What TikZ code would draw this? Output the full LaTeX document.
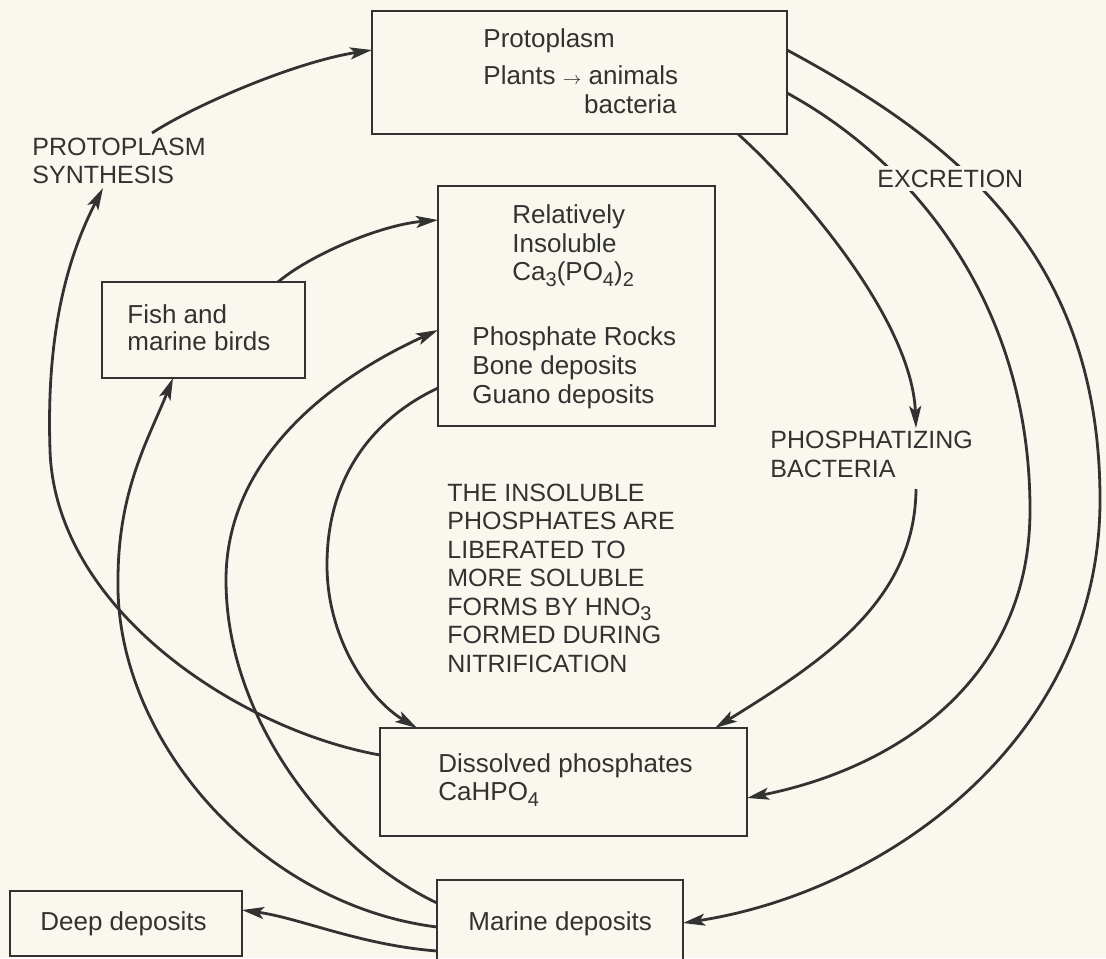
\documentclass[tikz,border=0pt]{standalone}
\usepackage{fontspec}
\setmainfont{Liberation Sans}
\usetikzlibrary{arrows.meta,calc,fit}
\definecolor{bg}{RGB}{250,248,238}
\definecolor{ink}{RGB}{50,50,50}
\newcommand{\mysub}[1]{\raisebox{-0.45ex}{\fontsize{10}{10}\selectfont #1}}
\tikzset{
 box/.style={draw=ink, line width=1.1pt, inner sep=0pt, outer sep=0pt},
 conn/.style={draw=ink, line width=1.4pt, -{Stealth[length=11pt,width=6pt,inset=2.5pt]}},
 bt/.style={anchor=base west, inner sep=0pt, text=ink, font=\fontsize{13}{15}\selectfont},
 capt/.style={anchor=base west, inner sep=0pt, text=ink, font=\fontsize{12.5}{14}\selectfont},
}
\begin{document}
\begin{tikzpicture}[x=0.5pt,y=-0.5pt]
\fill[bg] (0,0) rectangle (1106,958);
\useasboundingbox (0,0) rectangle (1106,958);
\clip (0,0) rectangle (1106,958);

% boxes
\node[box, fit={(372,11) (787,134)}] (proto) {};
\node[box, fit={(438,186) (715,426)}] (insol) {};
\node[box, fit={(102,282) (305,378)}] (fish) {};
\node[box, fit={(380,728) (747,836)}] (dissol) {};
\node[box, fit={(437,880) (683,990)}] (marine) {};
\node[box, fit={(10,891) (242,956)}] (deep) {};

% free ends
\coordinate (syntip) at (103,188);
\coordinate (synt) at (152,133);
\coordinate (phostip) at (916,428);
\coordinate (bactend) at (916,489);

% connectors
\draw[conn] ($(dissol.north west)+(0,27)$) .. controls (240,730) and (55,610) .. (50,450)
  .. controls (47,360) and (58,275) .. (syntip);
\draw[conn] (synt) .. controls (195,105) and (295,62) .. ($(proto.north west)+(0,39)$);
\draw[conn] ($(fish.north west)+(176,0)$) .. controls (310,255) and (380,225) .. ($(insol.north west)+(0,34)$);
\draw[conn] ($(marine.north west)+(0,23)$) .. controls (330,852) and (226,720) .. (226,580)
  .. controls (226,460) and (328,380) .. ($(insol.north west)+(0,144)$);
\draw[conn] ($(marine.north west)+(0,47)$) .. controls (260,905) and (115,740) .. (118,580)
  .. controls (118,490) and (149,438) .. ($(fish.south west)+(71,0)$);
\draw[conn] ($(marine.north west)+(0,71)$) .. controls (360,945) and (300,918) .. ($(deep.north east)+(0,19)$);
\draw[conn] ($(insol.north west)+(0,202)$) .. controls (370,420) and (327,480) .. (327,565)
  .. controls (327,640) and (370,700) .. ($(dissol.north west)+(37,0)$);
\draw[conn] ($(proto.north east)+(0,39)$) .. controls (950,138) and (1100,250) .. (1100,500)
  .. controls (1100,740) and (885,892) .. ($(marine.north east)+(0,43)$);
\draw[conn] ($(proto.north east)+(0,82)$) .. controls (910,160) and (1030,300) .. (1030,510)
  .. controls (1030,680) and (897,768) .. ($(dissol.north east)+(0,70)$);
\draw[conn] ($(proto.south west)+(366,0)$) .. controls (800,190) and (912,320) .. (phostip);
\draw[conn] (bactend) .. controls (915,600) and (825,660) .. ($(dissol.north west)+(335,0)$);

% labels
\node[capt] (s1) at (32,155) {PROTOPLASM};
\node[capt] (s2) at (32,183) {SYNTHESIS};
\node[capt, fill=bg, inner sep=2pt] (exc) at (873,187) {EXCRETION};
\node[capt] (ph1) at (770,448) {PHOSPHATIZING};
\node[capt] (ph2) at (770,477) {BACTERIA};
\node[capt] (n1) at (447,501) {THE INSOLUBLE};
\node[capt] (n2) at (447,529.5) {PHOSPHATES ARE};
\node[capt] (n3) at (447,558) {LIBERATED TO};
\node[capt] (n4) at (447,586.5) {MORE SOLUBLE};
\node[capt] (n5) at (447,615) {FORMS BY HNO\mysub{3}};
\node[capt] (n6) at (447,643.5) {FORMED DURING};
\node[capt] (n7) at (447,672) {NITRIFICATION};

% box texts
\node[bt] (pr1) at (483,47) {Protoplasm};
\node[bt] (pr2) at (483,84) {Plants {\small$\rightarrow$} animals};
\node[bt, anchor=base east] (pr3) at (677,113) {bacteria};
\node[bt] (i1) at (512,223) {Relatively};
\node[bt] (i2) at (512,252) {Insoluble};
\node[bt] (i3) at (512,280) {Ca\mysub{3}(PO\mysub{4})\mysub{2}};
\node[bt] (i4) at (472,345) {Phosphate Rocks};
\node[bt] (i5) at (472,374) {Bone deposits};
\node[bt] (i6) at (472,403) {Guano deposits};
\node[bt] (f1) at (127,323) {Fish and};
\node[bt] (f2) at (127,350) {marine birds};
\node[bt] (d1) at (438,772) {Dissolved phosphates};
\node[bt] (d2) at (438,800) {CaHPO\mysub{4}};
\node[bt] (m1) at (468,930) {Marine deposits};
\node[bt] (dp1) at (40,930) {Deep deposits};
\end{tikzpicture}
\end{document}
